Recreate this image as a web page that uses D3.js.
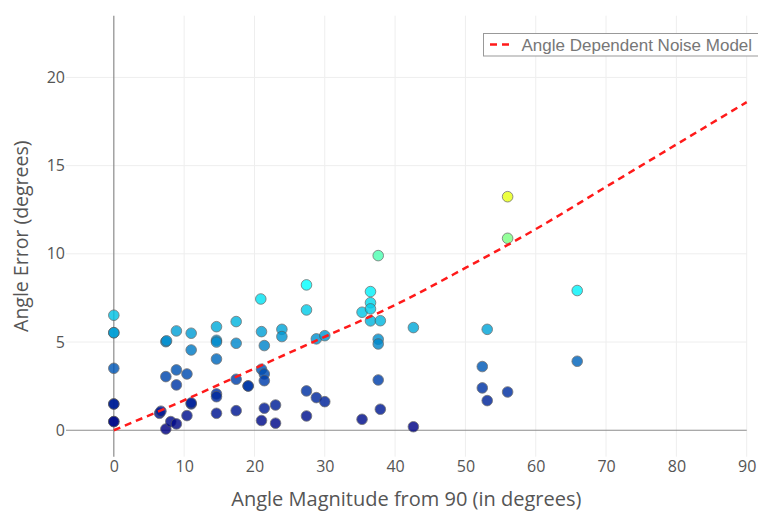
<!DOCTYPE html>
<html>
<head>
<meta charset="utf-8">
<script src="https://cdn.jsdelivr.net/npm/d3@7"></script>
<style>
  body { margin: 0; background: #fff; overflow: hidden; }
  svg { display: block; }
</style>
</head>
<body>
<div id="chart"></div>
<script>
// measured trials: angle magnitude from 90 vs angle error (both degrees)
const angleMagnitude = [
  0, 0, 0, 0, 0, 0, 0, 0,
  6.5, 6.7,
  7.4, 7.5, 7.4, 7.4,
  8.1,
  8.9, 8.9, 8.9, 8.9,
  10.4, 10.4,
  11.0, 11.0, 11.0, 11.0,
  14.6, 14.6, 14.6, 14.6, 14.6, 14.6, 14.6,
  17.4, 17.4, 17.4, 17.4,
  19.1, 19.1,
  20.9,
  21.0, 21.0, 21.0,
  21.4, 21.4, 21.4, 21.4,
  23.0, 23.0,
  23.9, 23.9,
  27.4, 27.4, 27.4, 27.4,
  28.8, 28.8,
  30.0, 30.0,
  35.3, 35.3,
  36.5, 36.5, 36.5, 36.5,
  37.6, 37.6, 37.6, 37.6,
  37.9, 37.9,
  42.6, 42.6,
  52.4, 52.4,
  53.1, 53.1,
  56.0, 56.0, 56.0,
  65.9, 65.9
];
const angleError = [
  6.52, 5.53, 5.53, 3.51, 1.49, 1.49, 0.49, 0.49,
  0.96, 1.08,
  5.02, 5.07, 3.04, 0.07,
  0.49,
  5.63, 3.42, 2.57, 0.36,
  3.19, 0.83,
  5.5, 4.55, 1.49, 1.55,
  5.87, 5.1, 5.0, 4.04, 2.06, 1.9, 0.96,
  6.16, 4.93, 2.89, 1.11,
  2.51, 2.51,
  7.44,
  5.59, 3.46, 0.55,
  4.8, 3.19, 2.81, 1.25,
  1.43, 0.4,
  5.72, 5.31,
  8.24, 6.82, 2.23, 0.81,
  5.18, 1.85,
  5.36, 1.62,
  6.69, 0.62,
  7.86, 7.23, 6.88, 6.2,
  9.9, 5.16, 4.89, 2.85,
  6.21, 1.19,
  5.82, 0.2,
  3.61, 2.40,
  5.72, 1.68,
  13.24, 10.88, 2.17,
  7.92, 3.91
];

// noise model curve
const modelAngle = [0, 10, 20, 30, 40, 50, 60, 70, 80, 90];
const modelError = [0, 1.7, 3.5, 5.3, 7.1, 9.2, 11.4, 13.8, 16.2, 18.6];

const xTicks = [0, 10, 20, 30, 40, 50, 60, 70, 80, 90];
const yTicks = [0, 5, 10, 15, 20];
const legendLabel = "Angle Dependent Noise Model";

const width = 758, height = 512;
const plotLeft = 66, plotRight = 746.7, plotTop = 15.7, plotBottom = 456.7;

const svg = d3.select("#chart")
  .append("svg")
    .attr("width", width)
    .attr("height", height);

const x = d3.scaleLinear().domain([-6.8, 90]).range([plotLeft, plotRight]);
const y = d3.scaleLinear().domain([-1.5, 23.5]).range([plotBottom, plotTop]);

// jet-like colour scale on the error value
const color = d3.scaleLinear()
    .domain([0, 0.125, 0.375, 0.625].map(d => d * 22))
    .range(["rgb(0,0,131)", "rgb(0,60,170)", "rgb(5,255,255)", "rgb(255,255,0)"])
    .clamp(true);

// grid
const grid = svg.append("g").attr("id", "grid");
grid.selectAll("line.vgrid")
    .data(xTicks.filter(d => d !== 0))
  .enter()
    .append("line")
    .attr("class", "vgrid")
    .attr("x1", d => x(d)).attr("x2", d => x(d))
    .attr("y1", plotTop).attr("y2", plotBottom)
    .attr("stroke", "#eee")
    .attr("stroke-width", 1);
grid.selectAll("line.hgrid")
    .data(yTicks.filter(d => d !== 0))
  .enter()
    .append("line")
    .attr("class", "hgrid")
    .attr("x1", plotLeft).attr("x2", plotRight)
    .attr("y1", d => y(d)).attr("y2", d => y(d))
    .attr("stroke", "#eee")
    .attr("stroke-width", 1);

// zero lines
svg.append("line")
    .attr("x1", plotLeft).attr("x2", plotRight)
    .attr("y1", y(0)).attr("y2", y(0))
    .attr("stroke", "#8c8c8c").attr("stroke-width", 1.2);
svg.append("line")
    .attr("x1", x(0)).attr("x2", x(0))
    .attr("y1", plotTop).attr("y2", plotBottom)
    .attr("stroke", "#8c8c8c").attr("stroke-width", 1.2);

// axes (labels only, plotly style)
const xAxis = svg.append("g")
    .attr("transform", `translate(0, ${plotBottom})`)
    .call(d3.axisBottom(x).tickValues(xTicks).tickSize(0).tickPadding(4));
const yAxis = svg.append("g")
    .attr("transform", `translate(${plotLeft}, 0)`)
    .call(d3.axisLeft(y).tickValues(yTicks).tickSize(0).tickPadding(1));
[xAxis, yAxis].forEach(a => {
  a.select(".domain").remove();
  a.selectAll("text")
      .style("font-family", "'Open Sans', sans-serif")
      .style("font-size", "16px")
      .attr("fill", "#555");
});

// axis titles
svg.append("text")
    .attr("x", (plotLeft + plotRight) / 2)
    .attr("y", 506)
    .attr("text-anchor", "middle")
    .style("font-family", "'Open Sans', sans-serif")
    .style("font-size", "20px")
    .attr("fill", "#555")
    .text("Angle Magnitude from 90 (in degrees)");
svg.append("text")
    .attr("transform", `translate(28, ${(plotTop + plotBottom) / 2}) rotate(-90)`)
    .attr("text-anchor", "middle")
    .style("font-family", "'Open Sans', sans-serif")
    .style("font-size", "19.5px")
    .attr("fill", "#555")
    .text("Angle Error (degrees)");

// scatter points
const points = d3.zip(angleMagnitude, angleError);
svg.append("g")
    .attr("id", "points")
  .selectAll("circle")
    .data(points)
  .enter()
    .append("circle")
    .attr("cx", d => x(d[0]))
    .attr("cy", d => y(d[1]))
    .attr("r", 5.3)
    .attr("fill", d => color(d[1]))
    .attr("stroke", "#555")
    .attr("stroke-width", 0.8)
    .attr("opacity", 0.82);

// model line
const modelLine = d3.line()
    .x(d => x(d[0]))
    .y(d => y(d[1]))
    .curve(d3.curveMonotoneX);
svg.append("path")
    .datum(d3.zip(modelAngle, modelError))
    .attr("d", modelLine)
    .attr("fill", "none")
    .attr("stroke", "#ff1a1a")
    .attr("stroke-width", 2.5)
    .attr("stroke-dasharray", "7,5");

// legend (box runs off the right edge like the original)
const legend = svg.append("g").attr("id", "legend");
legend.append("rect")
    .attr("x", 483.5).attr("y", 33.5)
    .attr("width", 280).attr("height", 22.5)
    .attr("fill", "#fff")
    .attr("stroke", "#999")
    .attr("stroke-width", 1);
legend.append("line")
    .attr("x1", 490).attr("x2", 512)
    .attr("y1", 44.5).attr("y2", 44.5)
    .attr("stroke", "#ff1a1a")
    .attr("stroke-width", 2.5)
    .attr("stroke-dasharray", "7,5");
legend.append("text")
    .attr("x", 521.5)
    .attr("y", 50.5)
    .style("font-family", "'Liberation Sans', Arial, sans-serif")
    .style("font-size", "17px")
    .attr("fill", "#777")
    .text(legendLabel);
</script>
</body>
</html>
